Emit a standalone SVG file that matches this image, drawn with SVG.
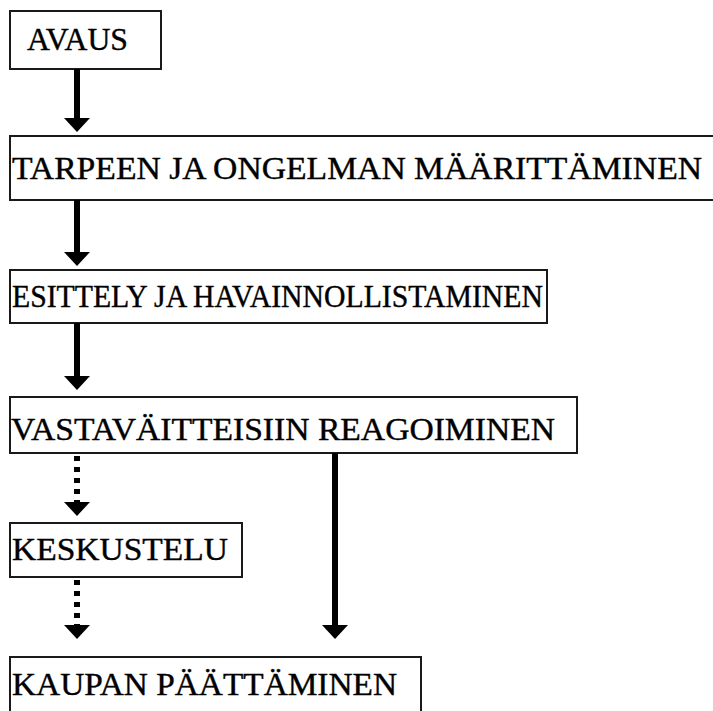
<svg xmlns="http://www.w3.org/2000/svg" width="713" height="711" viewBox="0 0 713 711">
  <style>
    .box { fill: #ffffff; stroke: #1a1a1a; stroke-width: 2; }
    .lbl { font-family: "Liberation Serif", "Times New Roman", serif; font-size: 31px; fill: #000; stroke: #000; stroke-width: 0.4; }
    .conn { stroke: #000; stroke-width: 6; fill: none; }
    .dot { stroke-dasharray: 5 6; }
  </style>
  <defs>
    <marker id="ah" markerUnits="userSpaceOnUse" markerWidth="14" markerHeight="26" viewBox="0 -13 14 26" refX="0" refY="0" orient="auto">
      <path d="M0,-13 L14,0 L0,13 z" fill="#000"/>
    </marker>
  </defs>
  <rect x="0" y="0" width="713" height="711" fill="#ffffff"/>

  <g id="n-avaus">
    <rect class="box" x="10" y="11" width="151" height="58"/>
    <text class="lbl" x="27" y="50" textLength="101" lengthAdjust="spacingAndGlyphs">AVAUS</text>
  </g>
  <g id="n-tarpeen">
    <rect class="box" x="10" y="136" width="710" height="64"/>
    <text class="lbl" x="12" y="179" textLength="690" lengthAdjust="spacingAndGlyphs">TARPEEN JA ONGELMAN MÄÄRITTÄMINEN</text>
  </g>
  <g id="n-esittely">
    <rect class="box" x="10" y="270" width="537" height="53"/>
    <text class="lbl" x="12" y="307" textLength="531" lengthAdjust="spacingAndGlyphs">ESITTELY JA HAVAINNOLLISTAMINEN</text>
  </g>
  <g id="n-vastavaitteet">
    <rect class="box" x="10" y="397" width="567" height="56"/>
    <text class="lbl" x="11" y="440" textLength="544" lengthAdjust="spacingAndGlyphs">VASTAVÄITTEISIIN REAGOIMINEN</text>
  </g>
  <g id="n-keskustelu">
    <rect class="box" x="10" y="523" width="232" height="54"/>
    <text class="lbl" x="12" y="560" textLength="216" lengthAdjust="spacingAndGlyphs">KESKUSTELU</text>
  </g>
  <g id="n-kaupan">
    <rect class="box" x="10" y="657" width="411" height="60"/>
    <text class="lbl" x="12" y="695" textLength="385" lengthAdjust="spacingAndGlyphs">KAUPAN PÄÄTTÄMINEN</text>
  </g>

  <g id="connectors">
    <line class="conn" x1="77" y1="69" x2="77" y2="118" marker-end="url(#ah)"/>
    <line class="conn" x1="77" y1="200" x2="77" y2="252" marker-end="url(#ah)"/>
    <line class="conn" x1="77" y1="323" x2="77" y2="376" marker-end="url(#ah)"/>
    <line class="conn dot" x1="77" y1="456" x2="77" y2="502" marker-end="url(#ah)"/>
    <line class="conn dot" x1="77" y1="580" x2="77" y2="625" marker-end="url(#ah)"/>
    <line class="conn" x1="335" y1="453" x2="335" y2="625" marker-end="url(#ah)"/>
  </g>
</svg>
